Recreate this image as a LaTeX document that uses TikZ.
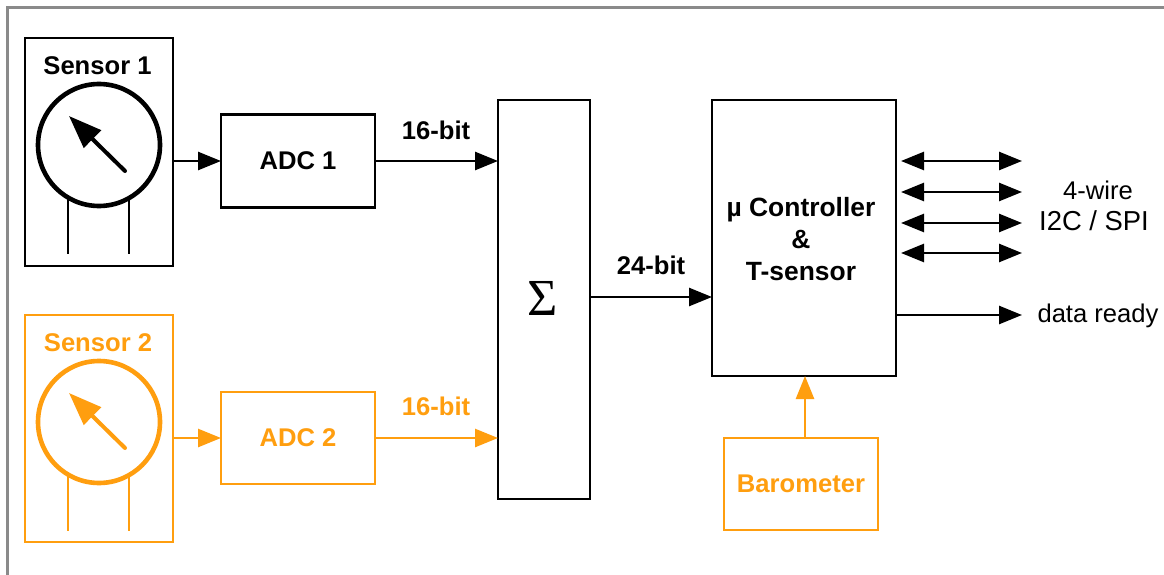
\documentclass[tikz,border=0pt]{standalone}
\usepackage{fontspec}
\setmainfont{Liberation Sans}
\newfontfamily\serifsym{Liberation Serif}
\usetikzlibrary{arrows.meta}
\definecolor{sensorange}{HTML}{FF9E0F}
\definecolor{framegray}{HTML}{8A8A8A}
\tikzset{
  blockbox/.style={draw,line width=2.6pt,rectangle,outer sep=0pt,inner sep=0pt,align=center,
    font=\fontsize{25.6}{32}\selectfont\bfseries},
  dial/.style={draw,circle,line width=4.6pt,inner sep=0pt,outer sep=0pt,minimum size=122pt},
  conn/.style={line width=2.6pt,-{Triangle[length=23pt,width=18pt]}},
  biconn/.style={line width=2.6pt,{Triangle[length=23pt,width=18pt]}-{Triangle[length=23pt,width=18pt]}},
  needle/.style={line width=4pt,line cap=round,-{Triangle[length=33pt,width=24pt]}},
  legline/.style={line width=2.8pt},
  boldlabel/.style={font=\fontsize{25.6}{30}\selectfont\bfseries,inner sep=0pt},
  plainlabel/.style={font=\fontsize{25.6}{30}\selectfont,inner sep=0pt},
}
\begin{document}
\begin{tikzpicture}[x=1pt,y=-1pt]
\useasboundingbox (0,0) rectangle (1164,575);
\fill[white] (0,0) rectangle (1164,575);
\draw[framegray,line width=3pt] (7,576) -- (7,8) -- (1165,8);

% Sensor 1
\node[blockbox,minimum width=148pt,minimum height=228pt] (s1) at (99,152) {};
\node[boldlabel] (s1t) at (97.5,65.5) {Sensor 1};
\node[dial] (d1) at (99,145) {};
\coordinate (n1a) at (125,171); \coordinate (n1b) at (69,116);
\draw[needle] (n1a) -- (n1b);
\coordinate (l1a) at (68,254); \coordinate (l1b) at (129,254);
\draw[legline] (d1.center) ++(-31,53) coordinate (l1at) (l1at) -- (l1a);
\draw[legline] (d1.center) ++(30,53) coordinate (l1bt) (l1bt) -- (l1b);

\node[blockbox,minimum width=154pt,minimum height=93pt] (adc1) at (298,161) {ADC 1};

% Sensor 2
\node[blockbox,draw=sensorange,minimum width=148pt,minimum height=227pt] (s2) at (99,428.5) {};
\node[boldlabel,text=sensorange] (s2t) at (98,342.5) {Sensor 2};
\node[dial,draw=sensorange] (d2) at (99,422) {};
\coordinate (n2a) at (125,448); \coordinate (n2b) at (69,393);
\draw[needle,sensorange] (n2a) -- (n2b);
\coordinate (l2a) at (68,531); \coordinate (l2b) at (129,531);
\draw[legline,sensorange] (d2.center) ++(-31,53) coordinate (l2at) (l2at) -- (l2a);
\draw[legline,sensorange] (d2.center) ++(30,53) coordinate (l2bt) (l2bt) -- (l2b);

\node[blockbox,draw=sensorange,text=sensorange,minimum width=154pt,minimum height=92pt] (adc2) at (298,438) {ADC 2};

% Centre blocks
\node[blockbox,minimum width=92pt,minimum height=399pt] (sum) at (544,299.5) {};
\node[inner sep=0pt,font=\serifsym\fontsize{52}{54}\selectfont] (sig) at (543,298) {Σ};
\node[blockbox,minimum width=184pt,minimum height=276pt] (ctl) at (804,238) {};
\node[boldlabel,align=center,font=\fontsize{26.4}{32}\selectfont\bfseries] (ctlt) at (801,239) {µ Controller\\\&\\T-sensor};
\node[blockbox,draw=sensorange,text=sensorange,minimum width=154pt,minimum height=92pt] (baro) at (801,484) {Barometer};

% Connectors
\draw[conn] (s1.east |- adc1.west) -- (adc1.west);
\draw[conn] (adc1.east) -- (adc1.east -| sum.west);
\node[boldlabel] (b1) at (436,130) {16-bit};
\draw[conn,sensorange] (s2.east |- adc2.west) -- (adc2.west);
\draw[conn,sensorange] (adc2.east) -- (adc2.east -| sum.west);
\node[boldlabel,text=sensorange] (b2) at (436,406) {16-bit};
\coordinate (sumout) at (sum.east |- 0,297);
\draw[conn] (sumout) -- (sumout -| ctl.west);
\node[boldlabel] (b3) at (651,265) {24-bit};
\coordinate (barotop) at (baro.north -| 805,0);
\draw[conn,sensorange] (barotop) -- (barotop |- ctl.south);

% Bus
\coordinate (i1) at (901,161); \coordinate (o1) at (1022,161);
\coordinate (i2) at (901,192); \coordinate (o2) at (1022,192);
\coordinate (i3) at (901,223); \coordinate (o3) at (1022,223);
\coordinate (i4) at (901,253); \coordinate (o4) at (1022,253);
\coordinate (o5) at (1022,315);
\draw[biconn] (i1) -- (o1);
\draw[biconn] (i2) -- (o2);
\draw[biconn] (i3) -- (o3);
\draw[biconn] (i4) -- (o4);
\draw[conn] (ctl.east |- o5) -- (o5);
\node[plainlabel] (w1) at (1098,190) {4-wire};
\node[plainlabel,font=\fontsize{27.4}{30}\selectfont] (w2) at (1094,221) {I2C / SPI};
\node[plainlabel] (dr) at (1098,316) {data ready};
\end{tikzpicture}
\end{document}
